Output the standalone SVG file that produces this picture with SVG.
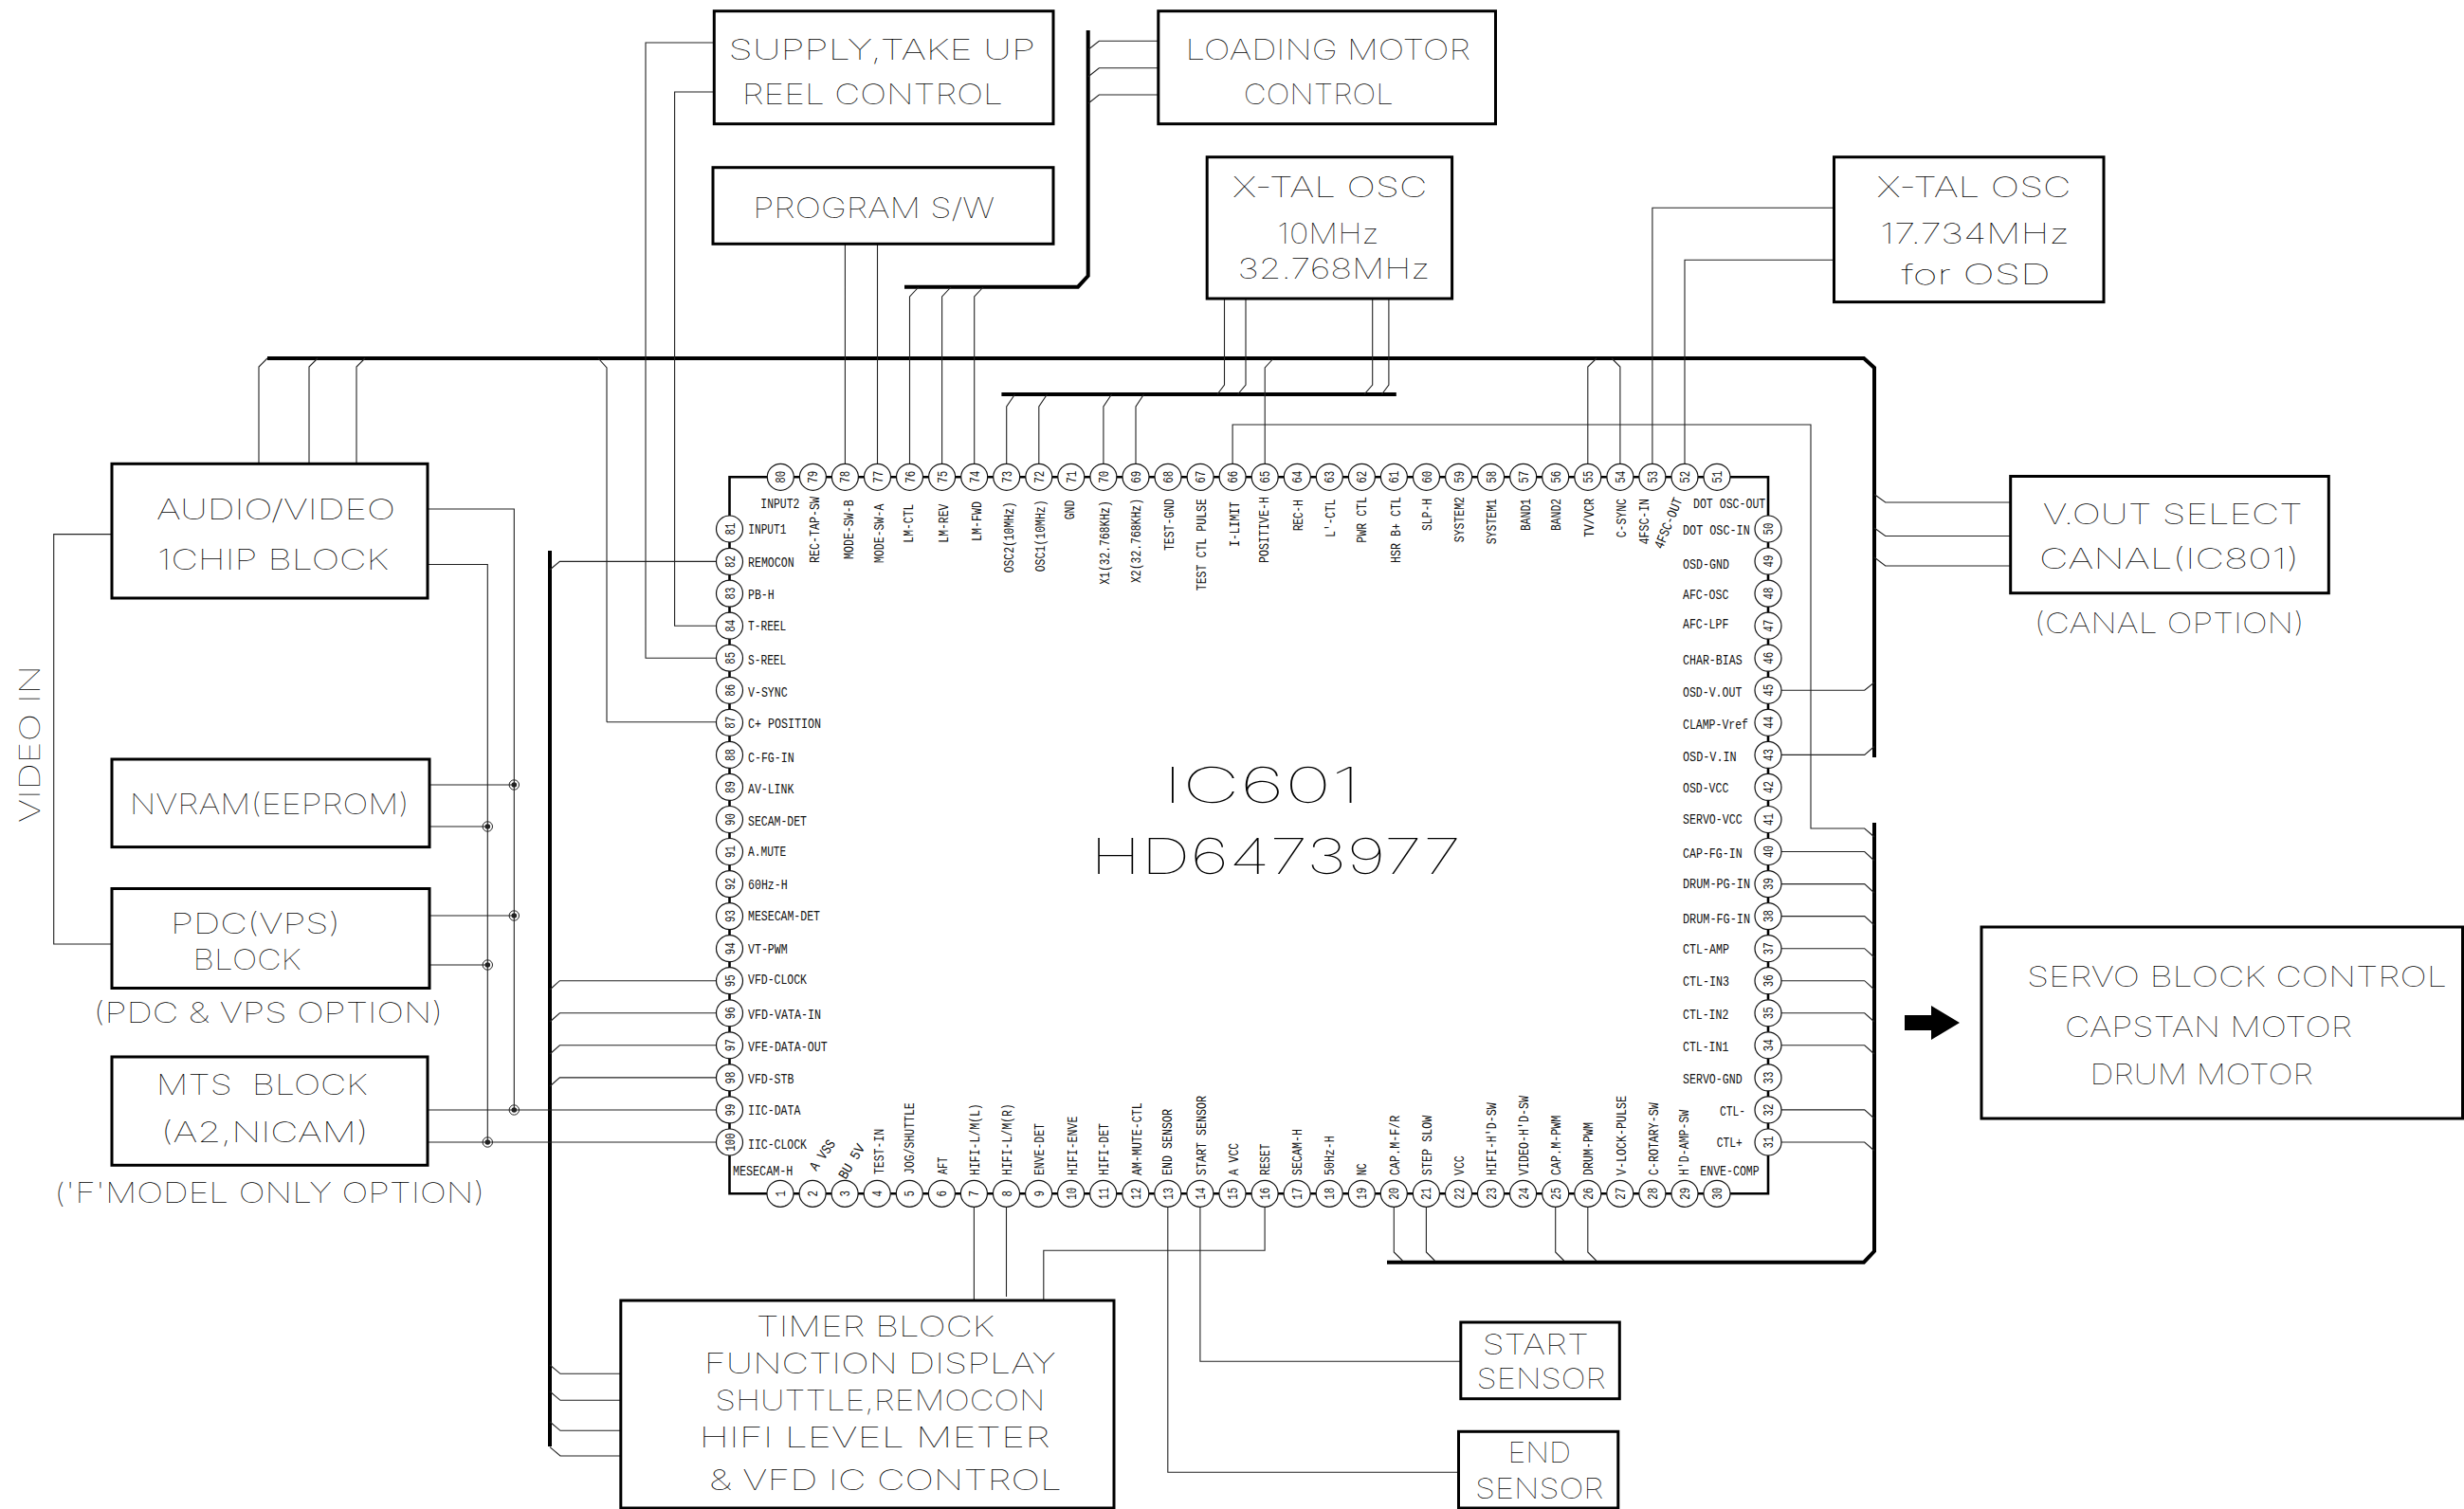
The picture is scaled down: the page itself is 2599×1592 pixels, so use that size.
<svg xmlns="http://www.w3.org/2000/svg" width="2599" height="1592" viewBox="0 0 2599 1592">
<style>
text{font-family:"Liberation Mono",monospace;fill:#111}
.t{font-family:"Inter","Liberation Sans",sans-serif;font-weight:100;font-size:29px;fill:#000;white-space:pre}
.s{font-size:15px;font-family:"Liberation Mono",monospace;fill:#111}
.n{font-size:15px;text-anchor:middle;fill:#111}
.p{fill:#fff;stroke:#111;stroke-width:1.2}
.b{fill:#fff;stroke:#000;stroke-width:3}
.w{fill:none;stroke:#222;stroke-width:1.1}
.bus{fill:none;stroke:#000;stroke-width:4}
.chip{fill:none;stroke:#000;stroke-width:2.6}
</style>
<defs>
<g id="j"><circle r="5.2" fill="none" stroke="#222" stroke-width="1"/><circle r="2.8" fill="#222"/></g>
</defs>
<rect width="2599" height="1592" fill="#fff"/>
<g id="connectors">
<path class="bus" d="M282 378H1966L1977 388V799M1977 868V1320L1966 1331.7H1463M580 581V1526M954 302.7H1137L1147.7 291V32M1056.4 416H1472.8"/>
<path class="chip" d="M769.5 503.3H1865V1259.3H769.5Z"/>
<path class="w" d="M118 563.6H56.7V996H118M451 537H542.3V1171M451 595.5H514.3V1205M453 828H542.3M453 872H514.3M453 966H542.3M453 1018H514.3M451 1171H755.5M451 1205H755.5"/>
<path class="w" d="M273 489V387L282 378M326 489V387L335 378M376 489V387L385 378M640 761.8V388L631 378M640 761.8H755.5"/>
<path class="w" d="M753 45H681V694.2H755.5M753 97H711.6V660.2H755.5"/>
<path class="w" d="M580 601L590.4 592.4H755.5M580 1044L590.4 1034.7H755.5M580 1078L590.4 1068.8H755.5M580 1112L590.4 1102.8H755.5M580 1146L590.4 1136.9H755.5"/>
<path class="w" d="M580 1440L591 1449.3H655M580 1468L591 1477.3H655M580 1500L591 1509.3H655M580 1526.7L591 1536H655"/>
<path class="w" d="M1027.4 1273V1372M1061.5 1273V1368M1334.1 1273V1319.3H1100.8V1372M1231.8 1273V1553.3H1538.5M1265.9 1273V1436.3H1541"/>
<path class="w" d="M1470.3 1273V1321L1479.4 1330M1504.4 1273V1321L1513.4 1330M1640.7 1273V1321L1649.7 1330M1674.8 1273V1321L1683.8 1330"/>
<path class="w" d="M1879 728.3H1966.7L1977 720M1879 796.4H1966.7L1977 787.5M1300.1 489.3V448H1910V874H1966.7L1977 883M1879 898.5H1966.7L1977 908M1879 932.6H1966.7L1977 942M1879 966.6H1966.7L1977 976M1879 1000.7H1966.7L1977 1010M1879 1034.7H1966.7L1977 1044M1879 1068.8H1966.7L1977 1078M1879 1102.8H1966.7L1977 1112M1879 1170.9H1966.7L1977 1180M1879 1205H1966.7L1977 1214"/>
<path class="w" d="M1334.2 489.3V388L1342.4 379M2120.7 530H1988.7L1977 521.5M2120.7 565.5H1988.7L1977 557M2120.7 597H1988.7L1977 588"/>
<path class="w" d="M1674.8 489.3V387L1684 378M1708.9 489.3V387L1700 378M1742.9 489.3V219.3H1934.5M1777 489.3V274.3H1934.5"/>
<path class="w" d="M891.4 257V489.3M925.5 257V489.3M1222 43.3H1159.3L1148 52.3M1222 71.7H1159.3L1148 80.7M1222 100H1159.3L1148 109M959.5 489.3V313L968.8 303M993.6 489.3V313L1002.9 303M1027.7 489.3V313L1037 303"/>
<path class="w" d="M1061.7 489.3V429L1070.5 416M1095.8 489.3V429L1104.5 416M1163.9 489.3V429L1172.5 416M1198 489.3V429L1206.5 416M1291.5 315V406L1284 416M1314 315V406L1305.6 416M1447.7 315V406L1439 416M1464.9 315V406L1457.5 416"/>
<use href="#j" x="542.3" y="828"/><use href="#j" x="542.3" y="966"/><use href="#j" x="542.3" y="1171"/>
<use href="#j" x="514.3" y="872"/><use href="#j" x="514.3" y="1018"/><use href="#j" x="514.3" y="1205"/>
<path d="M2009 1071H2037V1061L2067 1079L2037 1097V1087H2009Z" fill="#000"/>
</g>
<g id="block-av"><rect class="b" x="118" y="489.3" width="333" height="141.7"/>
<text class="t" x="165" y="548" textLength="252" lengthAdjust="spacingAndGlyphs">AUDIO/VIDEO</text>
<text class="t" x="166" y="601" textLength="244" lengthAdjust="spacingAndGlyphs">1CHIP BLOCK</text></g>
<g id="block-nvram"><rect class="b" x="118" y="801" width="335" height="92.6"/>
<text class="t" x="136.7" y="859" textLength="295" lengthAdjust="spacingAndGlyphs">NVRAM(EEPROM)</text></g>
<g id="block-pdc"><rect class="b" x="118" y="937.5" width="335" height="105"/>
<text class="t" x="180" y="984.6" textLength="179" lengthAdjust="spacingAndGlyphs">PDC(VPS)</text>
<text class="t" x="203.6" y="1023" textLength="114" lengthAdjust="spacingAndGlyphs">BLOCK</text>
<text class="t" x="98.4" y="1078.7" textLength="369" lengthAdjust="spacingAndGlyphs">(PDC &amp; VPS OPTION)</text></g>
<g id="block-mts"><rect class="b" x="118" y="1115" width="333" height="114.3"/>
<text class="t" x="164.8" y="1154.6" textLength="223" lengthAdjust="spacingAndGlyphs">MTS  BLOCK</text>
<text class="t" x="169.7" y="1205" textLength="219" lengthAdjust="spacingAndGlyphs">(A2,NICAM)</text>
<text class="t" x="57.2" y="1268.6" textLength="454" lengthAdjust="spacingAndGlyphs">('F'MODEL ONLY OPTION)</text></g>
<g id="video-in"><text class="t" transform="translate(42 868) rotate(-90)" textLength="166" lengthAdjust="spacingAndGlyphs">VIDEO IN</text></g>
<g id="block-supply"><rect class="b" x="753.3" y="11.7" width="357.7" height="119"/>
<text class="t" x="768.6" y="63.3" textLength="323.4" lengthAdjust="spacingAndGlyphs">SUPPLY,TAKE UP</text>
<text class="t" x="782.7" y="110" textLength="275.3" lengthAdjust="spacingAndGlyphs">REEL CONTROL</text></g>
<g id="block-loading"><rect class="b" x="1221.8" y="11.7" width="355.7" height="119"/>
<text class="t" x="1250.5" y="63.3" textLength="300.5" lengthAdjust="spacingAndGlyphs">LOADING MOTOR</text>
<text class="t" x="1311.8" y="110" textLength="158" lengthAdjust="spacingAndGlyphs">CONTROL</text></g>
<g id="block-program"><rect class="b" x="752" y="176.7" width="359" height="80.6"/>
<text class="t" x="794.3" y="230" textLength="254.7" lengthAdjust="spacingAndGlyphs">PROGRAM S/W</text></g>
<g id="block-xtal1"><rect class="b" x="1273.2" y="165.7" width="258.4" height="149.3"/>
<text class="t" x="1300" y="208.3" textLength="205.3" lengthAdjust="spacingAndGlyphs">X-TAL OSC</text>
<text class="t" x="1347.3" y="256.7" textLength="107.2" lengthAdjust="spacingAndGlyphs">10MHz</text>
<text class="t" x="1305.6" y="294.3" textLength="202.7" lengthAdjust="spacingAndGlyphs">32.768MHz</text></g>
<g id="block-xtal2"><rect class="b" x="1934.5" y="165.7" width="284.5" height="152.9"/>
<text class="t" x="1979.5" y="207.9" textLength="204.8" lengthAdjust="spacingAndGlyphs">X-TAL OSC</text>
<text class="t" x="1983" y="257" textLength="199.8" lengthAdjust="spacingAndGlyphs">17.734MHz</text>
<text class="t" x="2005.4" y="299.6" textLength="157.4" lengthAdjust="spacingAndGlyphs">for OSD</text></g>
<g id="block-vout"><rect class="b" x="2120.7" y="502.5" width="335.6" height="123.2"/>
<text class="t" x="2154.7" y="553.2" textLength="274.2" lengthAdjust="spacingAndGlyphs">V.OUT SELECT</text>
<text class="t" x="2151" y="599.6" textLength="274" lengthAdjust="spacingAndGlyphs">CANAL(IC801)</text>
<text class="t" x="2145.8" y="667.5" textLength="284.6" lengthAdjust="spacingAndGlyphs">(CANAL OPTION)</text></g>
<g id="block-servo"><rect class="b" x="2090" y="978" width="507.5" height="202"/>
<text class="t" x="2138" y="1041" textLength="443" lengthAdjust="spacingAndGlyphs">SERVO BLOCK CONTROL</text>
<text class="t" x="2178" y="1094" textLength="303" lengthAdjust="spacingAndGlyphs">CAPSTAN MOTOR</text>
<text class="t" x="2204.5" y="1144" textLength="235.5" lengthAdjust="spacingAndGlyphs">DRUM MOTOR</text></g>
<g id="block-timer"><rect class="b" x="654.8" y="1372" width="520.2" height="219"/>
<text class="t" x="797.8" y="1410" textLength="251" lengthAdjust="spacingAndGlyphs">TIMER BLOCK</text>
<text class="t" x="742.8" y="1449" textLength="371" lengthAdjust="spacingAndGlyphs">FUNCTION DISPLAY</text>
<text class="t" x="754.2" y="1488.3" textLength="348.2" lengthAdjust="spacingAndGlyphs">SHUTTLE,REMOCON</text>
<text class="t" x="737.4" y="1527.3" textLength="370.3" lengthAdjust="spacingAndGlyphs">HIFI LEVEL METER</text>
<text class="t" x="748" y="1571.7" textLength="372" lengthAdjust="spacingAndGlyphs">&amp; VFD IC CONTROL</text></g>
<g id="block-start"><rect class="b" x="1540.8" y="1395" width="167.5" height="80.7"/>
<text class="t" x="1563.7" y="1429.3" textLength="112.3" lengthAdjust="spacingAndGlyphs">START</text>
<text class="t" x="1557.6" y="1465" textLength="136.2" lengthAdjust="spacingAndGlyphs">SENSOR</text></g>
<g id="block-end"><rect class="b" x="1538.5" y="1510.3" width="168.3" height="80.7"/>
<text class="t" x="1590.5" y="1543.3" textLength="66.5" lengthAdjust="spacingAndGlyphs">END</text>
<text class="t" x="1556" y="1580.7" textLength="135.5" lengthAdjust="spacingAndGlyphs">SENSOR</text></g>
<g id="chip-title"><text class="t" style="font-size:52px" x="1226.5" y="847" textLength="208.5" lengthAdjust="spacingAndGlyphs">IC601</text>
<text class="t" style="font-size:52px" x="1150" y="922" textLength="391" lengthAdjust="spacingAndGlyphs">HD6473977</text></g>
<g id="pins-top">
<g id="pin-80"><circle class="p" cx="823.3" cy="503.3" r="14"/><text class="n" transform="translate(823.3 503.3) rotate(-90)" y="5" textLength="13" lengthAdjust="spacingAndGlyphs">80</text><text class="s" x="802.3" y="535.7" textLength="41" lengthAdjust="spacingAndGlyphs">INPUT2</text></g>
<g id="pin-79"><circle class="p" cx="857.4" cy="503.3" r="14"/><text class="n" transform="translate(857.4 503.3) rotate(-90)" y="5" textLength="13" lengthAdjust="spacingAndGlyphs">79</text><text class="s" transform="translate(864 594) rotate(-90)" textLength="70" lengthAdjust="spacingAndGlyphs">REC-TAP-SW</text></g>
<g id="pin-78"><circle class="p" cx="891.4" cy="503.3" r="14"/><text class="n" transform="translate(891.4 503.3) rotate(-90)" y="5" textLength="13" lengthAdjust="spacingAndGlyphs">78</text><text class="s" transform="translate(900 590) rotate(-90)" textLength="62.7" lengthAdjust="spacingAndGlyphs">MODE-SW-B</text></g>
<g id="pin-77"><circle class="p" cx="925.5" cy="503.3" r="14"/><text class="n" transform="translate(925.5 503.3) rotate(-90)" y="5" textLength="13" lengthAdjust="spacingAndGlyphs">77</text><text class="s" transform="translate(931.7 594) rotate(-90)" textLength="62.3" lengthAdjust="spacingAndGlyphs">MODE-SW-A</text></g>
<g id="pin-76"><circle class="p" cx="959.5" cy="503.3" r="14"/><text class="n" transform="translate(959.5 503.3) rotate(-90)" y="5" textLength="13" lengthAdjust="spacingAndGlyphs">76</text><text class="s" transform="translate(963.3 572.7) rotate(-90)" textLength="41" lengthAdjust="spacingAndGlyphs">LM-CTL</text></g>
<g id="pin-75"><circle class="p" cx="993.6" cy="503.3" r="14"/><text class="n" transform="translate(993.6 503.3) rotate(-90)" y="5" textLength="13" lengthAdjust="spacingAndGlyphs">75</text><text class="s" transform="translate(1000 572.7) rotate(-90)" textLength="41" lengthAdjust="spacingAndGlyphs">LM-REV</text></g>
<g id="pin-74"><circle class="p" cx="1027.7" cy="503.3" r="14"/><text class="n" transform="translate(1027.7 503.3) rotate(-90)" y="5" textLength="13" lengthAdjust="spacingAndGlyphs">74</text><text class="s" transform="translate(1035 571) rotate(-90)" textLength="42" lengthAdjust="spacingAndGlyphs">LM-FWD</text></g>
<g id="pin-73"><circle class="p" cx="1061.7" cy="503.3" r="14"/><text class="n" transform="translate(1061.7 503.3) rotate(-90)" y="5" textLength="13" lengthAdjust="spacingAndGlyphs">73</text><text class="s" transform="translate(1069.3 604.3) rotate(-90)" textLength="75" lengthAdjust="spacingAndGlyphs">OSC2(10MHz)</text></g>
<g id="pin-72"><circle class="p" cx="1095.8" cy="503.3" r="14"/><text class="n" transform="translate(1095.8 503.3) rotate(-90)" y="5" textLength="13" lengthAdjust="spacingAndGlyphs">72</text><text class="s" transform="translate(1102.3 603.3) rotate(-90)" textLength="76" lengthAdjust="spacingAndGlyphs">OSC1(10MHz)</text></g>
<g id="pin-71"><circle class="p" cx="1129.8" cy="503.3" r="14"/><text class="n" transform="translate(1129.8 503.3) rotate(-90)" y="5" textLength="13" lengthAdjust="spacingAndGlyphs">71</text><text class="s" transform="translate(1133.3 548.3) rotate(-90)" textLength="20.6" lengthAdjust="spacingAndGlyphs">GND</text></g>
<g id="pin-70"><circle class="p" cx="1163.9" cy="503.3" r="14"/><text class="n" transform="translate(1163.9 503.3) rotate(-90)" y="5" textLength="13" lengthAdjust="spacingAndGlyphs">70</text><text class="s" transform="translate(1170 616.7) rotate(-90)" textLength="88.4" lengthAdjust="spacingAndGlyphs">X1(32.768KHz)</text></g>
<g id="pin-69"><circle class="p" cx="1198" cy="503.3" r="14"/><text class="n" transform="translate(1198 503.3) rotate(-90)" y="5" textLength="13" lengthAdjust="spacingAndGlyphs">69</text><text class="s" transform="translate(1203.3 615) rotate(-90)" textLength="89" lengthAdjust="spacingAndGlyphs">X2(32.768KHz)</text></g>
<g id="pin-68"><circle class="p" cx="1232" cy="503.3" r="14"/><text class="n" transform="translate(1232 503.3) rotate(-90)" y="5" textLength="13" lengthAdjust="spacingAndGlyphs">68</text><text class="s" transform="translate(1238.3 581) rotate(-90)" textLength="55" lengthAdjust="spacingAndGlyphs">TEST-GND</text></g>
<g id="pin-67"><circle class="p" cx="1266.1" cy="503.3" r="14"/><text class="n" transform="translate(1266.1 503.3) rotate(-90)" y="5" textLength="13" lengthAdjust="spacingAndGlyphs">67</text><text class="s" transform="translate(1271.8 623.3) rotate(-90)" textLength="97.3" lengthAdjust="spacingAndGlyphs">TEST CTL PULSE</text></g>
<g id="pin-66"><circle class="p" cx="1300.1" cy="503.3" r="14"/><text class="n" transform="translate(1300.1 503.3) rotate(-90)" y="5" textLength="13" lengthAdjust="spacingAndGlyphs">66</text><text class="s" transform="translate(1306.5 576.7) rotate(-90)" textLength="47.4" lengthAdjust="spacingAndGlyphs">I-LIMIT</text></g>
<g id="pin-65"><circle class="p" cx="1334.2" cy="503.3" r="14"/><text class="n" transform="translate(1334.2 503.3) rotate(-90)" y="5" textLength="13" lengthAdjust="spacingAndGlyphs">65</text><text class="s" transform="translate(1338 594) rotate(-90)" textLength="70" lengthAdjust="spacingAndGlyphs">POSITIVE-H</text></g>
<g id="pin-64"><circle class="p" cx="1368.3" cy="503.3" r="14"/><text class="n" transform="translate(1368.3 503.3) rotate(-90)" y="5" textLength="13" lengthAdjust="spacingAndGlyphs">64</text><text class="s" transform="translate(1373.5 560) rotate(-90)" textLength="32.7" lengthAdjust="spacingAndGlyphs">REC-H</text></g>
<g id="pin-63"><circle class="p" cx="1402.3" cy="503.3" r="14"/><text class="n" transform="translate(1402.3 503.3) rotate(-90)" y="5" textLength="13" lengthAdjust="spacingAndGlyphs">63</text><text class="s" transform="translate(1408 566.7) rotate(-90)" textLength="40" lengthAdjust="spacingAndGlyphs">L'-CTL</text></g>
<g id="pin-62"><circle class="p" cx="1436.4" cy="503.3" r="14"/><text class="n" transform="translate(1436.4 503.3) rotate(-90)" y="5" textLength="13" lengthAdjust="spacingAndGlyphs">62</text><text class="s" transform="translate(1440.8 572.7) rotate(-90)" textLength="48.7" lengthAdjust="spacingAndGlyphs">PWR CTL</text></g>
<g id="pin-61"><circle class="p" cx="1470.4" cy="503.3" r="14"/><text class="n" transform="translate(1470.4 503.3) rotate(-90)" y="5" textLength="13" lengthAdjust="spacingAndGlyphs">61</text><text class="s" transform="translate(1476.7 594) rotate(-90)" textLength="70" lengthAdjust="spacingAndGlyphs">HSR B+ CTL</text></g>
<g id="pin-60"><circle class="p" cx="1504.5" cy="503.3" r="14"/><text class="n" transform="translate(1504.5 503.3) rotate(-90)" y="5" textLength="13" lengthAdjust="spacingAndGlyphs">60</text><text class="s" transform="translate(1510 560) rotate(-90)" textLength="34" lengthAdjust="spacingAndGlyphs">SLP-H</text></g>
<g id="pin-59"><circle class="p" cx="1538.6" cy="503.3" r="14"/><text class="n" transform="translate(1538.6 503.3) rotate(-90)" y="5" textLength="13" lengthAdjust="spacingAndGlyphs">59</text><text class="s" transform="translate(1544 572.3) rotate(-90)" textLength="48.3" lengthAdjust="spacingAndGlyphs">SYSTEM2</text></g>
<g id="pin-58"><circle class="p" cx="1572.6" cy="503.3" r="14"/><text class="n" transform="translate(1572.6 503.3) rotate(-90)" y="5" textLength="13" lengthAdjust="spacingAndGlyphs">58</text><text class="s" transform="translate(1578 574.3) rotate(-90)" textLength="48.3" lengthAdjust="spacingAndGlyphs">SYSTEM1</text></g>
<g id="pin-57"><circle class="p" cx="1606.7" cy="503.3" r="14"/><text class="n" transform="translate(1606.7 503.3) rotate(-90)" y="5" textLength="13" lengthAdjust="spacingAndGlyphs">57</text><text class="s" transform="translate(1613.5 560) rotate(-90)" textLength="34" lengthAdjust="spacingAndGlyphs">BAND1</text></g>
<g id="pin-56"><circle class="p" cx="1640.7" cy="503.3" r="14"/><text class="n" transform="translate(1640.7 503.3) rotate(-90)" y="5" textLength="13" lengthAdjust="spacingAndGlyphs">56</text><text class="s" transform="translate(1646 560) rotate(-90)" textLength="34" lengthAdjust="spacingAndGlyphs">BAND2</text></g>
<g id="pin-55"><circle class="p" cx="1674.8" cy="503.3" r="14"/><text class="n" transform="translate(1674.8 503.3) rotate(-90)" y="5" textLength="13" lengthAdjust="spacingAndGlyphs">55</text><text class="s" transform="translate(1680.8 566.7) rotate(-90)" textLength="40.7" lengthAdjust="spacingAndGlyphs">TV/VCR</text></g>
<g id="pin-54"><circle class="p" cx="1708.9" cy="503.3" r="14"/><text class="n" transform="translate(1708.9 503.3) rotate(-90)" y="5" textLength="13" lengthAdjust="spacingAndGlyphs">54</text><text class="s" transform="translate(1714.7 567.3) rotate(-90)" textLength="41.3" lengthAdjust="spacingAndGlyphs">C-SYNC</text></g>
<g id="pin-53"><circle class="p" cx="1742.9" cy="503.3" r="14"/><text class="n" transform="translate(1742.9 503.3) rotate(-90)" y="5" textLength="13" lengthAdjust="spacingAndGlyphs">53</text><text class="s" transform="translate(1738.8 574.3) rotate(-90)" textLength="48.3" lengthAdjust="spacingAndGlyphs">4FSC-IN</text></g>
<g id="pin-52"><circle class="p" cx="1777" cy="503.3" r="14"/><text class="n" transform="translate(1777 503.3) rotate(-90)" y="5" textLength="13" lengthAdjust="spacingAndGlyphs">52</text><text class="s" transform="translate(1753.5 580) rotate(-68)" textLength="56.7" lengthAdjust="spacingAndGlyphs">4FSC-OUT</text></g>
<g id="pin-51"><circle class="p" cx="1811" cy="503.3" r="14"/><text class="n" transform="translate(1811 503.3) rotate(-90)" y="5" textLength="13" lengthAdjust="spacingAndGlyphs">51</text><text class="s" x="1786" y="535.7" textLength="76.3" lengthAdjust="spacingAndGlyphs">DOT OSC-OUT</text></g>
</g>
<g id="pins-left">
<g id="pin-81"><circle class="p" cx="769.5" cy="558" r="14"/><text class="n" transform="translate(769.5 558) rotate(-90)" y="5" textLength="13" lengthAdjust="spacingAndGlyphs">81</text><text class="s" x="789.3" y="562.7" textLength="40" lengthAdjust="spacingAndGlyphs">INPUT1</text></g>
<g id="pin-82"><circle class="p" cx="769.5" cy="592.4" r="14"/><text class="n" transform="translate(769.5 592.4) rotate(-90)" y="5" textLength="13" lengthAdjust="spacingAndGlyphs">82</text><text class="s" x="789" y="598" textLength="48.7" lengthAdjust="spacingAndGlyphs">REMOCON</text></g>
<g id="pin-83"><circle class="p" cx="769.5" cy="626.1" r="14"/><text class="n" transform="translate(769.5 626.1) rotate(-90)" y="5" textLength="13" lengthAdjust="spacingAndGlyphs">83</text><text class="s" x="789" y="631.7" textLength="27.7" lengthAdjust="spacingAndGlyphs">PB-H</text></g>
<g id="pin-84"><circle class="p" cx="769.5" cy="660.2" r="14"/><text class="n" transform="translate(769.5 660.2) rotate(-90)" y="5" textLength="13" lengthAdjust="spacingAndGlyphs">84</text><text class="s" x="789" y="665" textLength="40.3" lengthAdjust="spacingAndGlyphs">T-REEL</text></g>
<g id="pin-85"><circle class="p" cx="769.5" cy="694.2" r="14"/><text class="n" transform="translate(769.5 694.2) rotate(-90)" y="5" textLength="13" lengthAdjust="spacingAndGlyphs">85</text><text class="s" x="789" y="701" textLength="40.3" lengthAdjust="spacingAndGlyphs">S-REEL</text></g>
<g id="pin-86"><circle class="p" cx="769.5" cy="728.3" r="14"/><text class="n" transform="translate(769.5 728.3) rotate(-90)" y="5" textLength="13" lengthAdjust="spacingAndGlyphs">86</text><text class="s" x="789" y="735" textLength="41.7" lengthAdjust="spacingAndGlyphs">V-SYNC</text></g>
<g id="pin-87"><circle class="p" cx="769.5" cy="762.3" r="14"/><text class="n" transform="translate(769.5 762.3) rotate(-90)" y="5" textLength="13" lengthAdjust="spacingAndGlyphs">87</text><text class="s" x="789" y="768.3" textLength="77" lengthAdjust="spacingAndGlyphs">C+ POSITION</text></g>
<g id="pin-88"><circle class="p" cx="769.5" cy="796.4" r="14"/><text class="n" transform="translate(769.5 796.4) rotate(-90)" y="5" textLength="13" lengthAdjust="spacingAndGlyphs">88</text><text class="s" x="789" y="804" textLength="48.7" lengthAdjust="spacingAndGlyphs">C-FG-IN</text></g>
<g id="pin-89"><circle class="p" cx="769.5" cy="830.4" r="14"/><text class="n" transform="translate(769.5 830.4) rotate(-90)" y="5" textLength="13" lengthAdjust="spacingAndGlyphs">89</text><text class="s" x="789" y="837.3" textLength="48.3" lengthAdjust="spacingAndGlyphs">AV-LINK</text></g>
<g id="pin-90"><circle class="p" cx="769.5" cy="864.5" r="14"/><text class="n" transform="translate(769.5 864.5) rotate(-90)" y="5" textLength="13" lengthAdjust="spacingAndGlyphs">90</text><text class="s" x="789" y="870.7" textLength="62" lengthAdjust="spacingAndGlyphs">SECAM-DET</text></g>
<g id="pin-91"><circle class="p" cx="769.5" cy="898.5" r="14"/><text class="n" transform="translate(769.5 898.5) rotate(-90)" y="5" textLength="13" lengthAdjust="spacingAndGlyphs">91</text><text class="s" x="789" y="902.7" textLength="40.3" lengthAdjust="spacingAndGlyphs">A.MUTE</text></g>
<g id="pin-92"><circle class="p" cx="769.5" cy="932.6" r="14"/><text class="n" transform="translate(769.5 932.6) rotate(-90)" y="5" textLength="13" lengthAdjust="spacingAndGlyphs">92</text><text class="s" x="789" y="938.3" textLength="41.7" lengthAdjust="spacingAndGlyphs">60Hz-H</text></g>
<g id="pin-93"><circle class="p" cx="769.5" cy="966.6" r="14"/><text class="n" transform="translate(769.5 966.6) rotate(-90)" y="5" textLength="13" lengthAdjust="spacingAndGlyphs">93</text><text class="s" x="789" y="970.7" textLength="76" lengthAdjust="spacingAndGlyphs">MESECAM-DET</text></g>
<g id="pin-94"><circle class="p" cx="769.5" cy="1000.7" r="14"/><text class="n" transform="translate(769.5 1000.7) rotate(-90)" y="5" textLength="13" lengthAdjust="spacingAndGlyphs">94</text><text class="s" x="789" y="1006" textLength="41.7" lengthAdjust="spacingAndGlyphs">VT-PWM</text></g>
<g id="pin-95"><circle class="p" cx="769.5" cy="1034.7" r="14"/><text class="n" transform="translate(769.5 1034.7) rotate(-90)" y="5" textLength="13" lengthAdjust="spacingAndGlyphs">95</text><text class="s" x="789" y="1038.3" textLength="62" lengthAdjust="spacingAndGlyphs">VFD-CLOCK</text></g>
<g id="pin-96"><circle class="p" cx="769.5" cy="1068.8" r="14"/><text class="n" transform="translate(769.5 1068.8) rotate(-90)" y="5" textLength="13" lengthAdjust="spacingAndGlyphs">96</text><text class="s" x="789" y="1075" textLength="77" lengthAdjust="spacingAndGlyphs">VFD-VATA-IN</text></g>
<g id="pin-97"><circle class="p" cx="769.5" cy="1102.8" r="14"/><text class="n" transform="translate(769.5 1102.8) rotate(-90)" y="5" textLength="13" lengthAdjust="spacingAndGlyphs">97</text><text class="s" x="789" y="1108.7" textLength="83.7" lengthAdjust="spacingAndGlyphs">VFE-DATA-OUT</text></g>
<g id="pin-98"><circle class="p" cx="769.5" cy="1136.9" r="14"/><text class="n" transform="translate(769.5 1136.9) rotate(-90)" y="5" textLength="13" lengthAdjust="spacingAndGlyphs">98</text><text class="s" x="789" y="1142.7" textLength="48.3" lengthAdjust="spacingAndGlyphs">VFD-STB</text></g>
<g id="pin-99"><circle class="p" cx="769.5" cy="1170.9" r="14"/><text class="n" transform="translate(769.5 1170.9) rotate(-90)" y="5" textLength="13" lengthAdjust="spacingAndGlyphs">99</text><text class="s" x="789" y="1176" textLength="55.3" lengthAdjust="spacingAndGlyphs">IIC-DATA</text></g>
<g id="pin-100"><circle class="p" cx="769.5" cy="1205" r="14"/><text class="n" transform="translate(769.5 1205) rotate(-90)" y="5" textLength="19" lengthAdjust="spacingAndGlyphs">100</text><text class="s" x="789" y="1211.7" textLength="62" lengthAdjust="spacingAndGlyphs">IIC-CLOCK</text></g>
</g>
<g id="pins-bottom">
<g id="pin-1"><circle class="p" cx="823" cy="1259.3" r="14"/><text class="n" transform="translate(823 1259.3) rotate(-90)" y="5" textLength="6.5" lengthAdjust="spacingAndGlyphs">1</text><text class="s" x="772.9" y="1240" textLength="63.5" lengthAdjust="spacingAndGlyphs">MESECAM-H</text></g>
<g id="pin-2"><circle class="p" cx="857.1" cy="1259.3" r="14"/><text class="n" transform="translate(857.1 1259.3) rotate(-90)" y="5" textLength="6.5" lengthAdjust="spacingAndGlyphs">2</text><text class="s" transform="translate(861 1236) rotate(-55)" textLength="36" lengthAdjust="spacingAndGlyphs">A VSS</text></g>
<g id="pin-3"><circle class="p" cx="891.1" cy="1259.3" r="14"/><text class="n" transform="translate(891.1 1259.3) rotate(-90)" y="5" textLength="6.5" lengthAdjust="spacingAndGlyphs">3</text><text class="s" transform="translate(892 1245) rotate(-59)" textLength="40" lengthAdjust="spacingAndGlyphs">BU 5V</text></g>
<g id="pin-4"><circle class="p" cx="925.2" cy="1259.3" r="14"/><text class="n" transform="translate(925.2 1259.3) rotate(-90)" y="5" textLength="6.5" lengthAdjust="spacingAndGlyphs">4</text><text class="s" transform="translate(932 1239) rotate(-90)" textLength="48" lengthAdjust="spacingAndGlyphs">TEST-IN</text></g>
<g id="pin-5"><circle class="p" cx="959.3" cy="1259.3" r="14"/><text class="n" transform="translate(959.3 1259.3) rotate(-90)" y="5" textLength="6.5" lengthAdjust="spacingAndGlyphs">5</text><text class="s" transform="translate(964.3 1239) rotate(-90)" textLength="75.7" lengthAdjust="spacingAndGlyphs">JOG/SHUTTLE</text></g>
<g id="pin-6"><circle class="p" cx="993.4" cy="1259.3" r="14"/><text class="n" transform="translate(993.4 1259.3) rotate(-90)" y="5" textLength="6.5" lengthAdjust="spacingAndGlyphs">6</text><text class="s" transform="translate(999 1239) rotate(-90)" textLength="18.3" lengthAdjust="spacingAndGlyphs">AFT</text></g>
<g id="pin-7"><circle class="p" cx="1027.4" cy="1259.3" r="14"/><text class="n" transform="translate(1027.4 1259.3) rotate(-90)" y="5" textLength="6.5" lengthAdjust="spacingAndGlyphs">7</text><text class="s" transform="translate(1032.9 1240) rotate(-90)" textLength="75.7" lengthAdjust="spacingAndGlyphs">HIFI-L/M(L)</text></g>
<g id="pin-8"><circle class="p" cx="1061.5" cy="1259.3" r="14"/><text class="n" transform="translate(1061.5 1259.3) rotate(-90)" y="5" textLength="6.5" lengthAdjust="spacingAndGlyphs">8</text><text class="s" transform="translate(1066.8 1240) rotate(-90)" textLength="75.7" lengthAdjust="spacingAndGlyphs">HIFI-L/M(R)</text></g>
<g id="pin-9"><circle class="p" cx="1095.6" cy="1259.3" r="14"/><text class="n" transform="translate(1095.6 1259.3) rotate(-90)" y="5" textLength="6.5" lengthAdjust="spacingAndGlyphs">9</text><text class="s" transform="translate(1100.7 1240) rotate(-90)" textLength="55" lengthAdjust="spacingAndGlyphs">ENVE-DET</text></g>
<g id="pin-10"><circle class="p" cx="1129.6" cy="1259.3" r="14"/><text class="n" transform="translate(1129.6 1259.3) rotate(-90)" y="5" textLength="13" lengthAdjust="spacingAndGlyphs">10</text><text class="s" transform="translate(1136.4 1240) rotate(-90)" textLength="62.3" lengthAdjust="spacingAndGlyphs">HIFI-ENVE</text></g>
<g id="pin-11"><circle class="p" cx="1163.7" cy="1259.3" r="14"/><text class="n" transform="translate(1163.7 1259.3) rotate(-90)" y="5" textLength="13" lengthAdjust="spacingAndGlyphs">11</text><text class="s" transform="translate(1168.6 1240) rotate(-90)" textLength="55" lengthAdjust="spacingAndGlyphs">HIFI-DET</text></g>
<g id="pin-12"><circle class="p" cx="1197.8" cy="1259.3" r="14"/><text class="n" transform="translate(1197.8 1259.3) rotate(-90)" y="5" textLength="13" lengthAdjust="spacingAndGlyphs">12</text><text class="s" transform="translate(1203.6 1240) rotate(-90)" textLength="76.7" lengthAdjust="spacingAndGlyphs">AM-MUTE-CTL</text></g>
<g id="pin-13"><circle class="p" cx="1231.8" cy="1259.3" r="14"/><text class="n" transform="translate(1231.8 1259.3) rotate(-90)" y="5" textLength="13" lengthAdjust="spacingAndGlyphs">13</text><text class="s" transform="translate(1236.4 1240) rotate(-90)" textLength="70" lengthAdjust="spacingAndGlyphs">END SENSOR</text></g>
<g id="pin-14"><circle class="p" cx="1265.9" cy="1259.3" r="14"/><text class="n" transform="translate(1265.9 1259.3) rotate(-90)" y="5" textLength="13" lengthAdjust="spacingAndGlyphs">14</text><text class="s" transform="translate(1272 1240) rotate(-90)" textLength="84" lengthAdjust="spacingAndGlyphs">START SENSOR</text></g>
<g id="pin-15"><circle class="p" cx="1300" cy="1259.3" r="14"/><text class="n" transform="translate(1300 1259.3) rotate(-90)" y="5" textLength="13" lengthAdjust="spacingAndGlyphs">15</text><text class="s" transform="translate(1306 1240) rotate(-90)" textLength="34" lengthAdjust="spacingAndGlyphs">A VCC</text></g>
<g id="pin-16"><circle class="p" cx="1334.1" cy="1259.3" r="14"/><text class="n" transform="translate(1334.1 1259.3) rotate(-90)" y="5" textLength="13" lengthAdjust="spacingAndGlyphs">16</text><text class="s" transform="translate(1338.6 1240) rotate(-90)" textLength="33.3" lengthAdjust="spacingAndGlyphs">RESET</text></g>
<g id="pin-17"><circle class="p" cx="1368.1" cy="1259.3" r="14"/><text class="n" transform="translate(1368.1 1259.3) rotate(-90)" y="5" textLength="13" lengthAdjust="spacingAndGlyphs">17</text><text class="s" transform="translate(1373 1240) rotate(-90)" textLength="49" lengthAdjust="spacingAndGlyphs">SECAM-H</text></g>
<g id="pin-18"><circle class="p" cx="1402.2" cy="1259.3" r="14"/><text class="n" transform="translate(1402.2 1259.3) rotate(-90)" y="5" textLength="13" lengthAdjust="spacingAndGlyphs">18</text><text class="s" transform="translate(1406.7 1240) rotate(-90)" textLength="41.7" lengthAdjust="spacingAndGlyphs">50Hz-H</text></g>
<g id="pin-19"><circle class="p" cx="1436.3" cy="1259.3" r="14"/><text class="n" transform="translate(1436.3 1259.3) rotate(-90)" y="5" textLength="13" lengthAdjust="spacingAndGlyphs">19</text><text class="s" transform="translate(1441 1240) rotate(-90)" textLength="12.7" lengthAdjust="spacingAndGlyphs">NC</text></g>
<g id="pin-20"><circle class="p" cx="1470.3" cy="1259.3" r="14"/><text class="n" transform="translate(1470.3 1259.3) rotate(-90)" y="5" textLength="13" lengthAdjust="spacingAndGlyphs">20</text><text class="s" transform="translate(1476.4 1240) rotate(-90)" textLength="63.3" lengthAdjust="spacingAndGlyphs">CAP.M-F/R</text></g>
<g id="pin-21"><circle class="p" cx="1504.4" cy="1259.3" r="14"/><text class="n" transform="translate(1504.4 1259.3) rotate(-90)" y="5" textLength="13" lengthAdjust="spacingAndGlyphs">21</text><text class="s" transform="translate(1510 1240) rotate(-90)" textLength="63.3" lengthAdjust="spacingAndGlyphs">STEP SLOW</text></g>
<g id="pin-22"><circle class="p" cx="1538.5" cy="1259.3" r="14"/><text class="n" transform="translate(1538.5 1259.3) rotate(-90)" y="5" textLength="13" lengthAdjust="spacingAndGlyphs">22</text><text class="s" transform="translate(1543.7 1240) rotate(-90)" textLength="20.7" lengthAdjust="spacingAndGlyphs">VCC</text></g>
<g id="pin-23"><circle class="p" cx="1572.5" cy="1259.3" r="14"/><text class="n" transform="translate(1572.5 1259.3) rotate(-90)" y="5" textLength="13" lengthAdjust="spacingAndGlyphs">23</text><text class="s" transform="translate(1577.8 1240) rotate(-90)" textLength="76.7" lengthAdjust="spacingAndGlyphs">HIFI-H'D-SW</text></g>
<g id="pin-24"><circle class="p" cx="1606.6" cy="1259.3" r="14"/><text class="n" transform="translate(1606.6 1259.3) rotate(-90)" y="5" textLength="13" lengthAdjust="spacingAndGlyphs">24</text><text class="s" transform="translate(1612 1240) rotate(-90)" textLength="84" lengthAdjust="spacingAndGlyphs">VIDEO-H'D-SW</text></g>
<g id="pin-25"><circle class="p" cx="1640.7" cy="1259.3" r="14"/><text class="n" transform="translate(1640.7 1259.3) rotate(-90)" y="5" textLength="13" lengthAdjust="spacingAndGlyphs">25</text><text class="s" transform="translate(1646 1240) rotate(-90)" textLength="63.3" lengthAdjust="spacingAndGlyphs">CAP.M-PWM</text></g>
<g id="pin-26"><circle class="p" cx="1674.8" cy="1259.3" r="14"/><text class="n" transform="translate(1674.8 1259.3) rotate(-90)" y="5" textLength="13" lengthAdjust="spacingAndGlyphs">26</text><text class="s" transform="translate(1680.4 1240) rotate(-90)" textLength="56" lengthAdjust="spacingAndGlyphs">DRUM-PWM</text></g>
<g id="pin-27"><circle class="p" cx="1708.8" cy="1259.3" r="14"/><text class="n" transform="translate(1708.8 1259.3) rotate(-90)" y="5" textLength="13" lengthAdjust="spacingAndGlyphs">27</text><text class="s" transform="translate(1714.8 1240) rotate(-90)" textLength="84" lengthAdjust="spacingAndGlyphs">V-LOCK-PULSE</text></g>
<g id="pin-28"><circle class="p" cx="1742.9" cy="1259.3" r="14"/><text class="n" transform="translate(1742.9 1259.3) rotate(-90)" y="5" textLength="13" lengthAdjust="spacingAndGlyphs">28</text><text class="s" transform="translate(1748.5 1240) rotate(-90)" textLength="76.7" lengthAdjust="spacingAndGlyphs">C-ROTARY-SW</text></g>
<g id="pin-29"><circle class="p" cx="1777" cy="1259.3" r="14"/><text class="n" transform="translate(1777 1259.3) rotate(-90)" y="5" textLength="13" lengthAdjust="spacingAndGlyphs">29</text><text class="s" transform="translate(1780.6 1240) rotate(-90)" textLength="69.3" lengthAdjust="spacingAndGlyphs">H'D-AMP-SW</text></g>
<g id="pin-30"><circle class="p" cx="1811" cy="1259.3" r="14"/><text class="n" transform="translate(1811 1259.3) rotate(-90)" y="5" textLength="13" lengthAdjust="spacingAndGlyphs">30</text><text class="s" x="1793.3" y="1240" textLength="62.4" lengthAdjust="spacingAndGlyphs">ENVE-COMP</text></g>
</g>
<g id="pins-right">
<g id="pin-31"><circle class="p" cx="1865" cy="1205" r="14"/><text class="n" transform="translate(1865 1205) rotate(-90)" y="5" textLength="13" lengthAdjust="spacingAndGlyphs">31</text><text class="s" x="1810.7" y="1210" textLength="27" lengthAdjust="spacingAndGlyphs">CTL+</text></g>
<g id="pin-32"><circle class="p" cx="1865" cy="1170.9" r="14"/><text class="n" transform="translate(1865 1170.9) rotate(-90)" y="5" textLength="13" lengthAdjust="spacingAndGlyphs">32</text><text class="s" x="1814" y="1176.7" textLength="27" lengthAdjust="spacingAndGlyphs">CTL-</text></g>
<g id="pin-33"><circle class="p" cx="1865" cy="1136.9" r="14"/><text class="n" transform="translate(1865 1136.9) rotate(-90)" y="5" textLength="13" lengthAdjust="spacingAndGlyphs">33</text><text class="s" x="1775" y="1142.7" textLength="62.7" lengthAdjust="spacingAndGlyphs">SERVO-GND</text></g>
<g id="pin-34"><circle class="p" cx="1865" cy="1102.8" r="14"/><text class="n" transform="translate(1865 1102.8) rotate(-90)" y="5" textLength="13" lengthAdjust="spacingAndGlyphs">34</text><text class="s" x="1775" y="1109" textLength="48.3" lengthAdjust="spacingAndGlyphs">CTL-IN1</text></g>
<g id="pin-35"><circle class="p" cx="1865" cy="1068.8" r="14"/><text class="n" transform="translate(1865 1068.8) rotate(-90)" y="5" textLength="13" lengthAdjust="spacingAndGlyphs">35</text><text class="s" x="1775" y="1075" textLength="48.3" lengthAdjust="spacingAndGlyphs">CTL-IN2</text></g>
<g id="pin-36"><circle class="p" cx="1865" cy="1034.7" r="14"/><text class="n" transform="translate(1865 1034.7) rotate(-90)" y="5" textLength="13" lengthAdjust="spacingAndGlyphs">36</text><text class="s" x="1775" y="1040" textLength="49" lengthAdjust="spacingAndGlyphs">CTL-IN3</text></g>
<g id="pin-37"><circle class="p" cx="1865" cy="1000.7" r="14"/><text class="n" transform="translate(1865 1000.7) rotate(-90)" y="5" textLength="13" lengthAdjust="spacingAndGlyphs">37</text><text class="s" x="1775" y="1006" textLength="49" lengthAdjust="spacingAndGlyphs">CTL-AMP</text></g>
<g id="pin-38"><circle class="p" cx="1865" cy="966.6" r="14"/><text class="n" transform="translate(1865 966.6) rotate(-90)" y="5" textLength="13" lengthAdjust="spacingAndGlyphs">38</text><text class="s" x="1775" y="974" textLength="71" lengthAdjust="spacingAndGlyphs">DRUM-FG-IN</text></g>
<g id="pin-39"><circle class="p" cx="1865" cy="932.6" r="14"/><text class="n" transform="translate(1865 932.6) rotate(-90)" y="5" textLength="13" lengthAdjust="spacingAndGlyphs">39</text><text class="s" x="1775" y="936.7" textLength="71" lengthAdjust="spacingAndGlyphs">DRUM-PG-IN</text></g>
<g id="pin-40"><circle class="p" cx="1865" cy="898.5" r="14"/><text class="n" transform="translate(1865 898.5) rotate(-90)" y="5" textLength="13" lengthAdjust="spacingAndGlyphs">40</text><text class="s" x="1775" y="905" textLength="62.7" lengthAdjust="spacingAndGlyphs">CAP-FG-IN</text></g>
<g id="pin-41"><circle class="p" cx="1865" cy="864.5" r="14"/><text class="n" transform="translate(1865 864.5) rotate(-90)" y="5" textLength="13" lengthAdjust="spacingAndGlyphs">41</text><text class="s" x="1775" y="869.3" textLength="62.7" lengthAdjust="spacingAndGlyphs">SERVO-VCC</text></g>
<g id="pin-42"><circle class="p" cx="1865" cy="830.4" r="14"/><text class="n" transform="translate(1865 830.4) rotate(-90)" y="5" textLength="13" lengthAdjust="spacingAndGlyphs">42</text><text class="s" x="1775" y="836" textLength="48.3" lengthAdjust="spacingAndGlyphs">OSD-VCC</text></g>
<g id="pin-43"><circle class="p" cx="1865" cy="796.4" r="14"/><text class="n" transform="translate(1865 796.4) rotate(-90)" y="5" textLength="13" lengthAdjust="spacingAndGlyphs">43</text><text class="s" x="1775" y="803.3" textLength="56.7" lengthAdjust="spacingAndGlyphs">OSD-V.IN</text></g>
<g id="pin-44"><circle class="p" cx="1865" cy="762.3" r="14"/><text class="n" transform="translate(1865 762.3) rotate(-90)" y="5" textLength="13" lengthAdjust="spacingAndGlyphs">44</text><text class="s" x="1775" y="769.3" textLength="69" lengthAdjust="spacingAndGlyphs">CLAMP-Vref</text></g>
<g id="pin-45"><circle class="p" cx="1865" cy="728.3" r="14"/><text class="n" transform="translate(1865 728.3) rotate(-90)" y="5" textLength="13" lengthAdjust="spacingAndGlyphs">45</text><text class="s" x="1775" y="735" textLength="62.3" lengthAdjust="spacingAndGlyphs">OSD-V.OUT</text></g>
<g id="pin-46"><circle class="p" cx="1865" cy="694.2" r="14"/><text class="n" transform="translate(1865 694.2) rotate(-90)" y="5" textLength="13" lengthAdjust="spacingAndGlyphs">46</text><text class="s" x="1775" y="701" textLength="62.7" lengthAdjust="spacingAndGlyphs">CHAR-BIAS</text></g>
<g id="pin-47"><circle class="p" cx="1865" cy="660.2" r="14"/><text class="n" transform="translate(1865 660.2) rotate(-90)" y="5" textLength="13" lengthAdjust="spacingAndGlyphs">47</text><text class="s" x="1775" y="663.3" textLength="48.3" lengthAdjust="spacingAndGlyphs">AFC-LPF</text></g>
<g id="pin-48"><circle class="p" cx="1865" cy="626.1" r="14"/><text class="n" transform="translate(1865 626.1) rotate(-90)" y="5" textLength="13" lengthAdjust="spacingAndGlyphs">48</text><text class="s" x="1775" y="631.7" textLength="48.3" lengthAdjust="spacingAndGlyphs">AFC-OSC</text></g>
<g id="pin-49"><circle class="p" cx="1865" cy="592" r="14"/><text class="n" transform="translate(1865 592) rotate(-90)" y="5" textLength="13" lengthAdjust="spacingAndGlyphs">49</text><text class="s" x="1775" y="600" textLength="49" lengthAdjust="spacingAndGlyphs">OSD-GND</text></g>
<g id="pin-50"><circle class="p" cx="1865" cy="558" r="14"/><text class="n" transform="translate(1865 558) rotate(-90)" y="5" textLength="13" lengthAdjust="spacingAndGlyphs">50</text><text class="s" x="1775" y="564.3" textLength="70.7" lengthAdjust="spacingAndGlyphs">DOT OSC-IN</text></g>
</g>
</svg>
